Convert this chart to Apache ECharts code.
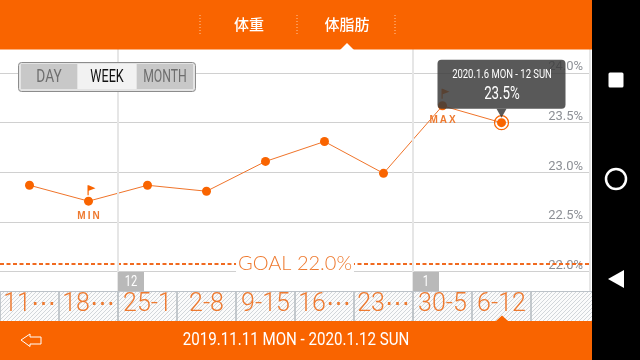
<!DOCTYPE html>
<html><head><meta charset="utf-8">
<style>html,body{margin:0;padding:0;background:#fff}#c{width:640px;height:360px}</style>
<script src="https://cdn.jsdelivr.net/npm/echarts@6/dist/echarts.min.js"></script></head>
<body><div id="c"></div>
<script>
const categories = ['11⋯','18⋯','25-1','2-8','9-15','16⋯','23⋯','30-5','6-12',''];
const values = [22.87,22.71,22.87,22.81,23.11,23.31,22.99,23.67,23.5];
const yTicks = [22.0,22.5,23.0,23.5,24.0];
const goalLine = 22.08;
const goalText = 'GOAL 22.0%';
const tabs = ['体重','体脂肪'];
const modes = ['DAY','WEEK','MONTH'];
const tipTitle = '2020.1.6 MON - 12 SUN';
const tipValue = '23.5%';
const rangeText = '2019.11.11 MON - 2020.1.12 SUN';
const monthMarks = [['12',2],['1',7]];
const ORANGE='#f96400', FONT='Roboto,sans-serif';

const pc=document.createElement('canvas');pc.width=4;pc.height=4;
const g=pc.getContext('2d');g.fillStyle='#fbfbfb';g.fillRect(0,0,4,4);g.strokeStyle='#d2d6da';g.lineWidth=1;
g.beginPath();g.moveTo(-1,5);g.lineTo(5,-1);g.moveTo(-1,1);g.lineTo(1,-1);g.moveTo(3,5);g.lineTo(5,3);g.stroke();

const flag='path://M0 0L0 10L1.2 10L1.2 5.5L8 3L1.2 0Z';
const tipBox='path://M4 0H124Q128 0 128 4V45Q128 49 124 49H4Q0 49 0 45V4Q0 0 4 0Z';
const Z=10;
const rect=(x,y,w,h,fill,z,extra)=>Object.assign({type:'rect',shape:{x,y,width:w,height:h},style:{fill},z:z||Z,silent:true},extra||{});
const txt=(x,y,text,fill,font,z,sx)=>({type:'text',x,y,scaleX:sx||1,style:{text,fill,font,textAlign:'center',textVerticalAlign:'middle'},z:z||Z+3,silent:true});
const vdash=(x)=>({type:'line',shape:{x1:x,y1:15,x2:x,y2:34},style:{stroke:'#ffc9a0',lineWidth:1,lineDash:[1,2]},z:Z+3,silent:true});
const BW=59;
const hatch={image:pc,repeat:'repeat'};
const graphics=[
 rect(0,0,592,49.5,ORANGE,Z+2),
 vdash(200),vdash(297),vdash(395),
 txt(249,24.5,tabs[0],'#fff','500 15px "Noto Sans CJK JP"'),
 txt(347,24.5,tabs[1],'#fff','500 15px "Noto Sans CJK JP"'),
 {type:'polygon',shape:{points:[[340,50],[347,43],[354,50]]},style:{fill:'#fff'},z:Z+3,silent:true},
 rect(0,291,592,30,hatch),
 rect(588,292,4,29,hatch,Z+2),
 {type:'line',shape:{x1:0,y1:291.5,x2:592,y2:291.5},style:{stroke:'#bcc2c8',lineWidth:1},z:Z+2,silent:true},
 rect(0,321,592,39,ORANGE,Z+2),
 {type:'polygon',shape:{points:[[496,321],[502,315.5],[508,321]]},style:{fill:ORANGE},z:Z+3,silent:true},
 txt(296,340,rangeText,'#fff','18px '+FONT,Z+3,0.84),
 {type:'polygon',shape:{points:[[21,340],[30,334],[30,337],[41,337],[41,344],[30,344],[30,346.5]]},style:{fill:'none',stroke:'#fff',lineWidth:1},z:Z+3,silent:true},
 // segmented control
 rect(18.5,62.5,177,29,'#e4e4e4',Z+2,{shape:{x:18.5,y:62.5,width:177,height:29,r:3},style:{fill:'#e4e4e4',stroke:'#8c8c8c',lineWidth:1}}),
 rect(21,64,56,25,'#c8c8c8',Z+3),rect(78,64,58,25,'#f2f2f2',Z+3),rect(137,64,56,25,'#c8c8c8',Z+3),
 txt(49,77,modes[0],'#6e6e6e','18px '+FONT,Z+4,0.76),
 txt(107,77,modes[1],'#111','18px '+FONT,Z+4,0.7),
 txt(165,77,modes[2],'#6e6e6e','18px '+FONT,Z+4,0.68),
 // tooltip text
 txt(502,75,tipTitle,'#fff','12px '+FONT,Z+4,0.79),
 txt(502,94,tipValue,'#fff','18px '+FONT,Z+4,0.74),
 // device bar
 rect(592,0,48,360,'#000',Z+5),
 rect(608.5,72.5,15,15,'#fff',Z+6,{shape:{x:608.5,y:72.5,width:15,height:15,r:1.5}}),
 {type:'circle',shape:{cx:616,cy:179,r:10},style:{fill:'none',stroke:'#fff',lineWidth:2.5},z:Z+6,silent:true},
 {type:'polygon',shape:{points:[[608,279],[624,270],[624,288]]},style:{fill:'#fff'},z:Z+6,silent:true}
];
monthMarks.forEach(([t,i])=>{
 graphics.push(rect(i*BW,272,26,19,'#b9b9b9',Z+2));
 graphics.push(txt(i*BW+13,282,t,'#fff','14px '+FONT,Z+3,0.8));
});

const chart=echarts.init(document.getElementById('c'),null,{renderer:'canvas'});
chart.setOption({
 animation:false,
 backgroundColor:'#fff',
 grid:{left:0,right:50,top:23.35,bottom:38.65,containLabel:false},
 xAxis:{type:'category',data:categories,boundaryGap:true,z:Z+1,
  axisLine:{show:false},
  axisTick:{show:true,inside:true,length:30,alignWithLabel:false,interval:0,lineStyle:{color:'#b4bac0',width:1.5}},
  axisLabel:{inside:true,interval:0,margin:4,color:'#ee7a30',fontFamily:'Roboto',fontWeight:300,fontSize:25,hideOverlap:false},
  splitLine:{show:true,interval:(i)=>i===2||i===7,lineStyle:{color:'#e6e6e6',width:2}}},
 yAxis:{type:'value',position:'right',min:21.5,max:24.5,interval:0.5,z:1,
  axisLine:{show:false},axisTick:{show:false},
  splitLine:{show:true,lineStyle:{color:'#d0d0d0',width:1}},
  axisLabel:{inside:true,margin:7,color:'#8d9096',fontFamily:FONT,fontSize:13,verticalAlign:'bottom',lineHeight:12,customValues:yTicks,
   formatter:(v)=>v.toFixed(1)+'%'}},
 series:[
 {type:'line',name:'main',z:5,data:values,symbol:'circle',symbolSize:9,showSymbol:true,
  lineStyle:{color:'#f0742a',width:1},itemStyle:{color:ORANGE},
  markLine:{silent:true,symbol:'none',z:6,precision:2,
   lineStyle:{color:'#f06a20',type:[4,2.5],width:2},
   label:{show:true,position:'middle',formatter:goalText,distance:-10,color:'#ee7a30',fontFamily:'Lato',fontWeight:300,fontSize:20,backgroundColor:'#fff',padding:[0,2]},
   data:[{yAxis:goalLine}]},
  markPoint:{silent:true,z:6,
   data:[
    {coord:[categories[1],values[1]],symbol:flag,symbolSize:[8,10],symbolOffset:[3,-11],itemStyle:{color:ORANGE},
     label:{show:true,position:'bottom',distance:15,offset:[-3,1],formatter:'M\u2009I\u2009N',color:'#ee7a30',fontFamily:'"Liberation Sans"',fontWeight:'bold',fontSize:10}},
    {coord:[categories[7],values[7]],symbol:flag,symbolSize:[8,10],symbolOffset:[3,-12],itemStyle:{color:ORANGE},
     label:{show:true,position:'bottom',distance:15,offset:[-3,1],formatter:'M\u2009A\u2009X',color:'#ee7a30',fontFamily:'"Liberation Sans"',fontWeight:'bold',fontSize:10}},
    {coord:[categories[8],values[8]],symbol:'circle',symbolSize:14,itemStyle:{color:'rgba(0,0,0,0)',borderColor:ORANGE,borderWidth:1.2},label:{show:false}}
   ]}
 },
 {type:'line',name:'tip',z:8,data:values.map((v,i)=>i===8?v:null),symbol:'none',lineStyle:{opacity:0},
  markPoint:{silent:true,z:9,
   data:[
    {coord:[categories[8],values[8]],symbol:tipBox,symbolKeepAspect:false,symbolSize:[128,49],symbolOffset:[0,-38.5],
     itemStyle:{color:'rgba(60,60,60,0.85)'},label:{show:false}},
    {coord:[categories[8],values[8]],symbol:'triangle',symbolRotate:180,symbolSize:[10,9],symbolOffset:[0,-9.5],
     itemStyle:{color:'rgba(60,60,60,0.85)'},label:{show:false}}
   ]}
 }],
 graphic:{elements:graphics}
});
</script></body></html>
